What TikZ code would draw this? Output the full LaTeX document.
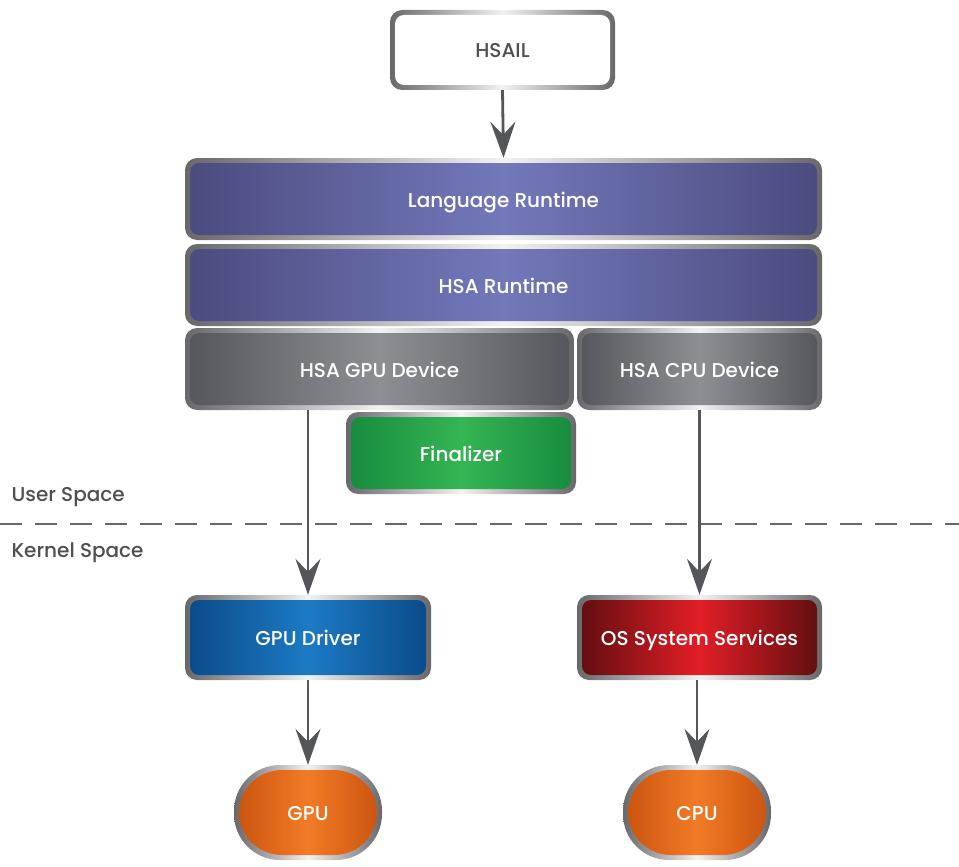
\documentclass[tikz,border=0pt]{standalone}
\usepackage{fontspec}
\setmainfont{Poppins}[UprightFont={* Medium}]
\usetikzlibrary{arrows.meta}
\definecolor{sdark}{HTML}{68686B}
\definecolor{slight}{HTML}{F2F2F2}
\definecolor{txtgray}{HTML}{4F4F52}
\definecolor{arrowgray}{HTML}{55565A}
\definecolor{purpD}{HTML}{4A4B7E}
\definecolor{purpL}{HTML}{7378BA}
\definecolor{greyD}{HTML}{55565B}
\definecolor{greyL}{HTML}{8E8F94}
\definecolor{greenD}{HTML}{168A3E}
\definecolor{greenL}{HTML}{35B553}
\definecolor{blueD}{HTML}{0A4A88}
\definecolor{blueL}{HTML}{1C7AC4}
\definecolor{redD}{HTML}{5E0E10}
\definecolor{redL}{HTML}{E21E26}
\definecolor{orD}{HTML}{C9520F}
\definecolor{orL}{HTML}{F27B26}
\tikzset{
  frame/.style={rounded corners=#1, inner sep=0pt, shade, left color=sdark, right color=sdark, middle color=slight},
  box/.style n args={4}{frame=#4, font=\fontsize{20}{24}\selectfont, text=white,
    text height=18pt, text depth=2pt,
    path picture={\shade[rounded corners=#4-3pt, left color=#1, right color=#3, middle color=#2]
      ([shift={(5pt,-5pt)}]path picture bounding box.north west) rectangle
      ([shift={(-5pt,5pt)}]path picture bounding box.south east);}},
  conn/.style={draw=arrowgray, line width=2.8pt, -{Stealth[length=36pt,width=25pt,inset=13pt]}},
  side/.style={anchor=west, text=txtgray, font=\fontsize{20}{24}\selectfont},
}
\begin{document}
\begin{tikzpicture}[x=1pt,y=-1pt]
\useasboundingbox (0,0) rectangle (959,867);
\node[box={white}{white}{white}{12pt}, text=txtgray, minimum width=225pt, minimum height=80pt] (hsail) at (502.5,50) {HSAIL};
\node[box={purpD}{purpL}{purpD}{12pt}, minimum width=637pt, minimum height=82pt] (lang) at (503.5,199) {Language Runtime};
\node[box={purpD}{purpL}{purpD}{12pt}, minimum width=637pt, minimum height=82pt] (hsart) at (503.5,285) {HSA Runtime};
\node[box={greyD}{greyL}{greyD}{12pt}, minimum width=389pt, minimum height=82pt] (gpudev) at (379.5,369) {HSA GPU Device};
\node[box={greyD}{greyL}{greyD}{12pt}, minimum width=245pt, minimum height=82pt] (cpudev) at (699.5,369) {HSA CPU Device};
\node[box={greenD}{greenL}{greenD}{12pt}, minimum width=230pt, minimum height=82pt] (fin) at (461,453) {Finalizer};
\node[box={blueD}{blueL}{blueD}{12pt}, minimum width=246pt, minimum height=85pt] (gpudrv) at (308,637.5) {GPU Driver};
\node[box={redD}{redL}{redD}{12pt}, minimum width=245pt, minimum height=85pt] (ossvc) at (699.5,637.5) {OS System Services};
\node[box={orD}{orL}{orD}{46pt}, minimum width=148pt, minimum height=95pt] (gpu) at (308,812.5) {GPU};
\node[box={orD}{orL}{orD}{46pt}, minimum width=148pt, minimum height=95pt] (cpu) at (697,812.5) {CPU};
\node[side] (user) at (8,497) {User Space};
\node[side] (kernel) at (8,553) {Kernel Space};
\coordinate (dl) at (0,524);
\coordinate (dr) at (959,524);
\draw[draw=arrowgray!90, line width=2.5pt, dash pattern=on 22pt off 13pt] (dl) -- (dr);
\draw[conn] (hsail.south) -- (lang.north);
\draw[conn] (gpudev.south -| gpudrv.north) -- (gpudrv.north);
\draw[conn] (cpudev.south) -- (ossvc.north);
\draw[conn] (gpudrv.south) -- (gpu.north);
\draw[conn] (ossvc.south -| cpu.north) -- (cpu.north);
\end{tikzpicture}
\end{document}
